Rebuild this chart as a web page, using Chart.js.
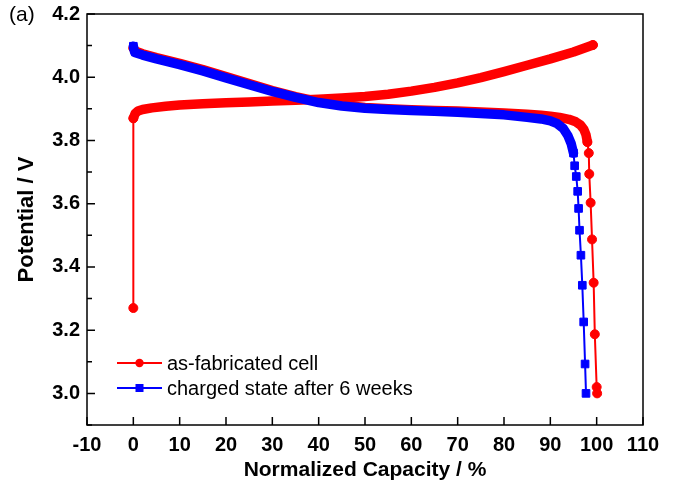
<!DOCTYPE html>
<html>
<head>
<meta charset="utf-8">
<script src="https://cdn.jsdelivr.net/npm/chart.js@4.4.0/dist/chart.umd.min.js"></script>
<style>
  html, body { margin: 0; padding: 0; background: #fff; }
  canvas { display: block; }
</style>
</head>
<body>
<canvas id="chart" width="678" height="488"></canvas>
<script>
// charged state after 6 weeks: discharge curve
const blueX = [0, 0.3, 2, 5, 10, 15, 20, 25, 30, 35, 40, 45, 50, 55, 60, 65, 70, 75, 80, 85,
  88, 90, 91.5, 92.8, 93.8, 94.5, 95.0, 95.25, 95.6, 95.9, 96.1, 96.3, 96.6, 96.9, 97.2, 97.5, 97.7];
const blueY = [4.098, 4.078, 4.070, 4.058, 4.040, 4.020, 3.998, 3.976, 3.955, 3.936, 3.920, 3.909, 3.902, 3.898, 3.895, 3.892, 3.889, 3.885, 3.881, 3.873,
  3.868, 3.862, 3.853, 3.838, 3.815, 3.790, 3.760, 3.720, 3.686, 3.639, 3.585, 3.516, 3.437, 3.342, 3.226, 3.093, 3.000];

// as-fabricated cell: charge curve
const chgX = [0, 0, 0.4, 1, 2, 4, 7, 10, 15, 20, 25, 30, 35, 40, 45, 50, 55, 60, 65, 70, 75, 80, 85, 90, 95, 99.2];
const chgY = [3.27, 3.870, 3.885, 3.893, 3.898, 3.903, 3.908, 3.912, 3.916, 3.919, 3.922, 3.925, 3.927, 3.930, 3.934,
  3.939, 3.946, 3.956, 3.968, 3.982, 3.999, 4.018, 4.038, 4.058, 4.080, 4.102];

// as-fabricated cell: discharge curve
const disX = [0, 0.5, 2, 5, 10, 15, 20, 25, 30, 35, 40, 45, 50, 55, 60, 65, 70, 75, 80, 85,
  88, 90, 92, 94, 95.5, 96.5, 97.2, 97.7, 98.0, 98.3, 98.4, 98.7, 99.0, 99.35, 99.6, 100.0, 100.1];
const disY = [4.092, 4.082, 4.074, 4.062, 4.044, 4.024, 4.002, 3.980, 3.958, 3.939, 3.923, 3.912, 3.904, 3.900, 3.897, 3.895, 3.893, 3.890, 3.887, 3.883,
  3.880, 3.877, 3.873, 3.867, 3.859, 3.849, 3.836, 3.818, 3.795, 3.760, 3.694, 3.603, 3.487, 3.350, 3.187, 3.020, 3.000];

const seriesNames = ['as-fabricated cell', 'charged state after 6 weeks'];
const xRange = [-10, 110, 10];
const yRange = [2.9, 4.2, 0.1];

// stretches where the measured points sit so close that they merge into a solid band
const chgBand = [1, 25];
const disBand = [0, 28];
const blueBand = [0, 26];

const RED = '#ff0000';
const BLUE = '#0000ff';
const FONT = 'Arial, "Liberation Sans", sans-serif';

function pts(xs, ys) {
  return xs.map((x, i) => ({x: x, y: ys[i]}));
}
function bandWidth(band, wide, thin) {
  return ctx => (ctx.p0DataIndex >= band[0] && ctx.p1DataIndex <= band[1]) ? wide : thin;
}
function markerSize(band, r) {
  return ctx => (ctx.dataIndex > band[0] && ctx.dataIndex < band[1]) ? 0 : r;
}

function series(label, xs, ys, band, color, style, r, order, inKey) {
  return {
    label: label,
    data: pts(xs, ys),
    borderColor: color,
    backgroundColor: color,
    pointBackgroundColor: color,
    pointBorderColor: color,
    pointBorderWidth: 1,
    pointStyle: style,
    pointRadius: markerSize(band, r),
    borderWidth: 2,
    borderCapStyle: 'round',
    borderJoinStyle: 'round',
    segment: { borderWidth: bandWidth(band, 9.5, 2) },
    order: order,
    inKey: inKey,
    tension: 0
  };
}

const ctx = document.getElementById('chart');
Chart.defaults.font.family = FONT;
Chart.defaults.color = '#000';

// box, inward ticks, panel letter and the key
const frame = {
  id: 'frame',
  afterDatasetsDraw(chart) {
    const c = chart.ctx;
    const a = chart.chartArea;
    const x = chart.scales.x, y = chart.scales.y;
    c.save();
    c.strokeStyle = '#000';
    c.lineWidth = 1.5;
    c.strokeRect(a.left, a.top, a.right - a.left, a.bottom - a.top);
    c.beginPath();
    x.ticks.forEach(t => {
      const px = x.getPixelForValue(t.value);
      c.moveTo(px, a.bottom);
      c.lineTo(px, a.bottom - 8);
    });
    y.ticks.forEach(t => {
      const py = y.getPixelForValue(t.value);
      const len = Math.round(t.value * 10) % 2 === 0 ? 8 : 5;
      c.moveTo(a.left, py);
      c.lineTo(a.left + len, py);
    });
    c.stroke();

    c.fillStyle = '#000';
    c.font = '21px ' + FONT;
    c.textBaseline = 'middle';
    c.fillText('(a)', 9, 15);

    // key
    let row = 0;
    chart.data.datasets.filter(d => d.inKey).sort((p, q) => q.order - p.order).forEach(d => {
      const ky = 363 + row * 25;
      c.strokeStyle = d.borderColor;
      c.fillStyle = d.borderColor;
      c.lineWidth = 2;
      c.beginPath();
      c.moveTo(117, ky);
      c.lineTo(162, ky);
      c.stroke();
      if (d.pointStyle === 'rect') {
        c.fillRect(135.5, ky - 4, 8, 8);
      } else {
        c.beginPath();
        c.arc(139.5, ky, 4.2, 0, Math.PI * 2);
        c.fill();
      }
      c.fillStyle = '#000';
      c.font = '20px ' + FONT;
      c.fillText(d.label, 167, ky + 1);
      row++;
    });
    c.restore();
  }
};

const chart = new Chart(ctx, {
  type: 'line',
  data: {
    datasets: [
      series(seriesNames[1], blueX, blueY, blueBand, BLUE, 'rect', 5.4, 1, true),
      series(seriesNames[0], chgX, chgY, chgBand, RED, 'circle', 4.5, 2, true),
      series(seriesNames[0], disX, disY, disBand, RED, 'circle', 4.5, 3, false)
    ]
  },
  options: {
    responsive: false,
    animation: false,
    events: [],
    layout: { padding: { left: 0, right: 35, top: 14, bottom: 0 } },
    plugins: { legend: { display: false }, tooltip: { enabled: false } },
    scales: {
      x: {
        type: 'linear',
        min: xRange[0],
        max: xRange[1],
        grid: { display: false, drawTicks: false },
        border: { display: false },
        ticks: {
          stepSize: xRange[2],
          autoSkip: false,
          maxRotation: 0,
          padding: 8,
          font: { size: 20, weight: 'bold' }
        },
        title: {
          display: true,
          text: 'Normalized Capacity / %',
          font: { size: 21, weight: 'bold' },
          padding: { top: 0, bottom: 5 }
        },
        afterFit: s => { s.height = 63; }
      },
      y: {
        type: 'linear',
        min: yRange[0],
        max: yRange[1],
        grid: { display: false, drawTicks: false },
        border: { display: false },
        ticks: {
          stepSize: yRange[2],
          autoSkip: false,
          padding: 7,
          font: { size: 20, weight: 'bold' },
          callback: v => {
            const k = Math.round(v * 10);
            return (k % 2 === 0 && k >= 30) ? (k / 10).toFixed(1) : '';
          }
        },
        title: {
          display: true,
          text: 'Potential / V',
          font: { size: 22, weight: 'bold' },
          padding: { top: 14, bottom: 0 }
        },
        afterFit: s => { s.width = 87; s.paddingTop = 0; s.paddingBottom = 0; }
      }
    }
  },
  plugins: [frame]
});
</script>
</body>
</html>
